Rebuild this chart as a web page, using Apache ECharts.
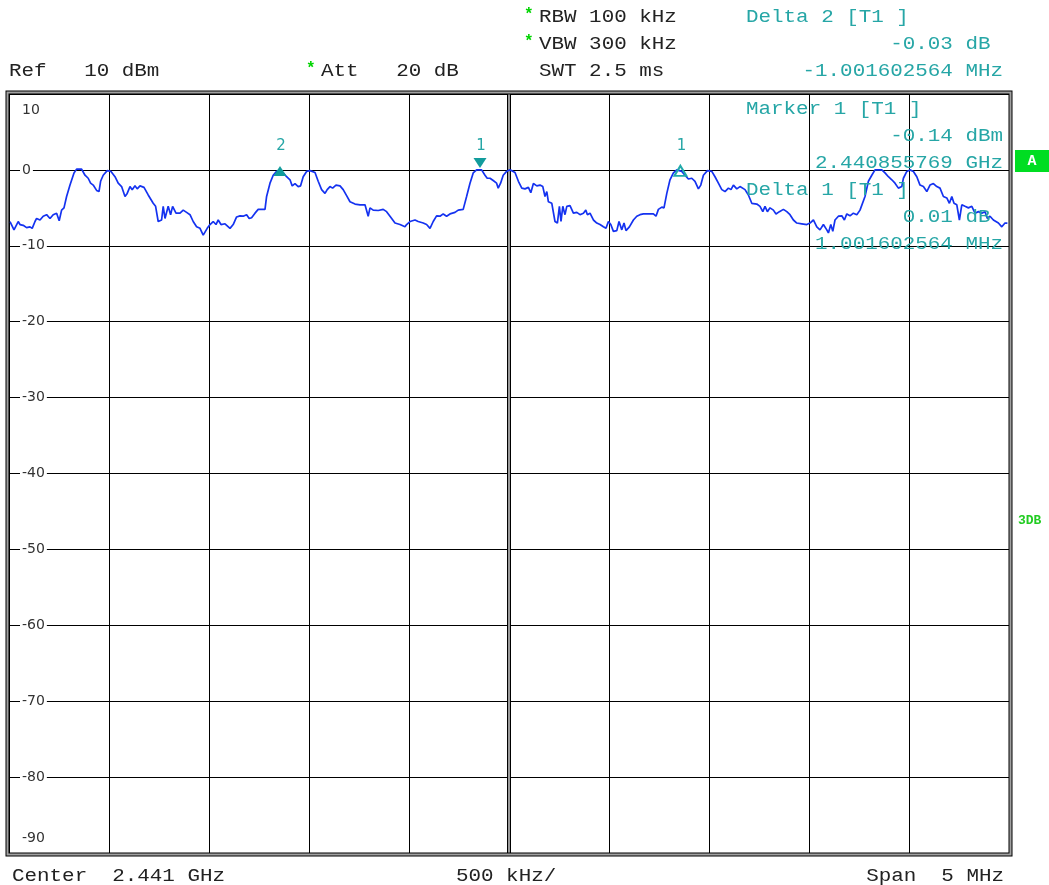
<!DOCTYPE html>
<html>
<head>
<meta charset="utf-8">
<script src="https://cdn.jsdelivr.net/npm/echarts@6/dist/echarts.min.js"></script>
<style>html,body{margin:0;padding:0;background:#fff;}#c{width:1049px;height:885px;}</style>
</head>
<body>
<div id="c"></div>
<script>
// Frequency offset from center 2.441 GHz, in kHz
const freqKHz = [-2495,-2487,-2475,-2465,-2454,-2445,-2429,-2412,-2395,-2384,-2370,-2362,-2345,-2329,-2312,-2295,-2279,-2262,-2249,-2237,-2225,-2212,-2195,-2175,-2162,-2137,-2120,-2104,-2092,-2079,-2062,-2050,-2042,-2029,-2009,-1990,-1970,-1954,-1937,-1920,-1909,-1895,-1884,-1870,-1859,-1845,-1825,-1804,-1779,-1767,-1754,-1737,-1729,-1720,-1704,-1692,-1682,-1665,-1645,-1629,-1612,-1595,-1579,-1562,-1545,-1529,-1520,-1509,-1495,-1479,-1465,-1454,-1440,-1420,-1395,-1379,-1362,-1345,-1329,-1312,-1299,-1287,-1270,-1254,-1220,-1212,-1195,-1179,-1162,-1145,-1129,-1112,-1095,-1084,-1070,-1054,-1042,-1029,-1012,-995,-970,-954,-937,-920,-909,-895,-882,-865,-845,-829,-812,-795,-770,-745,-720,-704,-695,-679,-654,-629,-612,-595,-570,-545,-537,-520,-512,-495,-470,-454,-429,-412,-395,-379,-362,-345,-329,-312,-295,-270,-254,-229,-212,-195,-179,-162,-137,-120,-109,-95,-79,-62,-54,-42,-29,-12,2,14,30,47,64,80,97,109,122,139,155,169,180,189,197,214,230,242,252,260,269,280,289,305,322,339,355,372,384,392,405,422,439,455,472,485,497,509,522,539,550,564,575,585,602,622,639,655,672,697,722,735,747,764,775,789,805,822,839,864,880,897,914,930,947,959,972,992,1014,1030,1047,1064,1080,1097,1110,1122,1139,1155,1180,1197,1214,1222,1239,1255,1269,1280,1292,1305,1322,1335,1352,1372,1389,1405,1422,1439,1464,1489,1505,1522,1539,1555,1572,1589,1597,1609,1619,1630,1647,1664,1677,1689,1705,1722,1739,1755,1780,1797,1814,1830,1864,1880,1897,1914,1930,1947,1964,1972,1989,2005,2022,2039,2055,2072,2089,2105,2122,2139,2155,2172,2189,2202,2214,2225,2239,2252,2264,2280,2297,2314,2330,2347,2364,2380,2392,2405,2422,2447,2464,2480,2492];
const levelDBm = [-6.8,-6.6,-7.9,-8.0,-6.8,-7.2,-7.3,-7.6,-7.5,-7.7,-6.8,-6.4,-6.6,-6.1,-5.9,-6.4,-5.9,-5.7,-6.7,-5.3,-5.0,-3.5,-2.0,-0.4,0.1,0.1,-0.7,-1.1,-1.75,-2.0,-2.7,-2.85,-1.5,-0.7,-0.1,-0.2,-0.9,-1.75,-2.2,-3.5,-3.1,-2.2,-2.6,-2.1,-2.5,-2.1,-2.3,-3.3,-4.4,-4.8,-6.8,-6.6,-4.8,-6.4,-4.8,-5.9,-4.8,-5.7,-5.7,-5.3,-5.6,-5.9,-6.8,-7.5,-7.7,-8.6,-8.7,-7.7,-7.2,-6.8,-7.2,-6.6,-7.2,-7.1,-7.7,-7.2,-6.2,-6.05,-6.1,-5.9,-6.4,-6.3,-5.7,-5.2,-5.2,-3.5,-1.75,-0.7,-0.2,-0.1,-0.4,-0.9,-1.3,-2.1,-1.8,-2.2,-2.1,-0.9,-0.2,-0.1,-0.35,-1.5,-2.6,-3.1,-2.6,-2.2,-2.4,-2.0,-2.1,-2.6,-3.4,-4.2,-4.5,-4.6,-4.6,-6.1,-5.0,-5.3,-5.35,-5.2,-5.5,-6.1,-7.0,-7.2,-7.0,-7.5,-7.2,-6.8,-6.6,-6.8,-7.0,-7.2,-7.7,-6.8,-6.05,-6.1,-5.8,-6.1,-5.8,-5.6,-5.3,-5.2,-3.5,-1.75,-0.4,0,0,-0.7,-1.1,-1.1,-1.4,-1.75,-2.4,-1.75,-0.7,-0.2,0,-0.1,-0.35,-1.5,-2.4,-2.5,-2.3,-3.0,-1.8,-2.1,-2.0,-2.2,-3.5,-2.85,-4.2,-4.4,-6.8,-7.0,-4.8,-6.8,-4.8,-5.9,-4.8,-4.7,-5.7,-5.6,-5.9,-5.7,-5.3,-5.9,-5.7,-6.6,-7.0,-7.2,-7.5,-7.7,-6.8,-7.2,-8.1,-8.0,-6.8,-7.9,-7.0,-8.0,-7.5,-6.6,-6.1,-5.9,-5.8,-5.8,-5.8,-6.1,-5.2,-4.9,-5.0,-3.1,-1.3,-0.4,0,-0.2,-0.7,-1.2,-1.1,-1.5,-2.5,-2.0,-0.7,-0.1,-0.2,-0.9,-1.75,-2.6,-2.85,-2.4,-2.6,-2.0,-2.5,-2.2,-2.6,-3.3,-4.4,-4.2,-4.5,-4.8,-5.5,-4.8,-5.5,-5.0,-5.3,-5.8,-5.5,-5.2,-5.5,-5.9,-6.6,-7.0,-7.1,-7.2,-7.0,-6.6,-7.5,-7.9,-7.2,-7.9,-8.3,-7.2,-8.1,-6.6,-6.1,-6.05,-6.6,-5.8,-6.05,-5.7,-5.9,-5.3,-3.5,-1.5,-0.7,0,0,-0.4,-0.9,-1.3,-1.75,-2.4,-2.2,-1.1,-0.2,0,-0.2,-0.9,-2.0,-2.2,-2.85,-2.0,-1.8,-2.2,-2.4,-3.5,-3.7,-4.4,-3.5,-4.4,-4.6,-6.6,-4.6,-4.8,-5.0,-4.8,-5.7,-5.5,-5.7,-5.5,-6.4,-6.1,-6.6,-7.0,-7.5,-7.0,-7.0];
const yTicks = [10, 0, -10, -20, -30, -40, -50, -60, -70, -80, -90];
// markers: [freq kHz, level, label, kind]
const markerPos = [[-1145, -0.14, '2', 'up'], [-145, -0.14, '1', 'down'], [857, -0.13, '1', 'hollow']];

const traceData = freqKHz.map((f, i) => [f, levelDBm[i]]);

const MONO = '"Liberation Mono", "DejaVu Sans Mono", monospace';
const TEAL = '#26a6a6';
const BLK = '#222222';
const GREEN = '#00d400';
const FS = 18;
const SX = 1.16;

function txt(x, y, s, color, align) {
  return {
    type: 'text', x: x, y: y, z: 100, scaleX: SX, silent: true,
    style: { text: s, fill: color, font: FS + 'px ' + MONO, textAlign: align || 'left', textVerticalAlign: 'middle' }
  };
}
function star(x, y) {
  return { type: 'text', x: x, y: y, z: 100, silent: true,
    style: { text: '*', fill: GREEN, font: 'bold 16px ' + MONO, textAlign: 'left', textVerticalAlign: 'middle' } };
}

const markPts = [];
markerPos.forEach(m => {
  const [f, v, lab, kind] = m;
  if (kind === 'up') {
    markPts.push({ coord: [f, v], symbol: 'triangle', symbolSize: [13, 10], symbolOffset: [0, 0], itemStyle: { color: '#129c9c' }, label: { show: false } });
  } else if (kind === 'down') {
    markPts.push({ coord: [f, v], symbol: 'triangle', symbolRotate: 180, symbolSize: [13, 10], symbolOffset: [0, -8], itemStyle: { color: '#129c9c' }, label: { show: false } });
  } else {
    markPts.push({ coord: [f, v], symbol: 'triangle', symbolSize: [12, 10], symbolOffset: [0, 0], itemStyle: { color: 'rgba(0,0,0,0)', borderColor: '#22aaaa', borderWidth: 2 }, label: { show: false } });
  }
  markPts.push({ coord: [f, v], symbol: 'circle', symbolSize: 1, itemStyle: { color: 'rgba(0,0,0,0)' },
    label: { show: true, position: 'inside', offset: [1, -25], formatter: lab, color: TEAL, fontFamily: '"DejaVu Sans", sans-serif', fontSize: 15 } });
});

const chart = echarts.init(document.getElementById('c'), null, { renderer: 'canvas' });
chart.setOption({
  animation: false,
  backgroundColor: '#fff',
  grid: { left: 9, top: 94, right: 40, bottom: 32, show: false },
  xAxis: {
    type: 'value', min: -2500, max: 2500, interval: 500,
    axisLine: { show: false }, axisTick: { show: false }, axisLabel: { show: false },
    splitLine: { show: true, lineStyle: { color: '#000', width: 1 } }
  },
  yAxis: {
    type: 'value', min: -90, max: 10, interval: 10,
    axisLine: { show: false }, axisTick: { show: false },
    splitLine: { show: true, lineStyle: { color: '#000', width: 1 } },
    axisLabel: {
      inside: true, margin: 11, showMinLabel: true, showMaxLabel: true,
      color: '#333', fontFamily: '"DejaVu Sans", sans-serif', fontSize: 14,
      formatter: function (v) {
        if (v === 10) return '{t|' + v + '}';
        if (v === -90) return '{b|' + v + '}';
        return '{m|' + v + '}';
      },
      rich: {
        t: { padding: [32, 0, 0, 2], color: '#333', fontSize: 14, fontFamily: '"DejaVu Sans", sans-serif' },
        b: { padding: [0, 0, 30, 2], color: '#333', fontSize: 14, fontFamily: '"DejaVu Sans", sans-serif' },
        m: { backgroundColor: '#fff', padding: [1, 2, 1, 2], color: '#333', fontSize: 14, fontFamily: '"DejaVu Sans", sans-serif' }
      }
    }
  },
  series: [{
    type: 'line', data: traceData, showSymbol: false, silent: true,
    lineStyle: { color: '#1432f0', width: 1.7 },
    z: 5,
    markLine: {
      silent: true, symbol: 'none', label: { show: false },
      data: [
        { xAxis: 0, lineStyle: { color: '#000', width: 4, type: 'solid' } },
        { xAxis: 0, lineStyle: { color: '#9a9a9a', width: 2, type: 'solid' } }
      ],
      z: 1
    },
    markPoint: { silent: true, data: markPts, z: 10 }
  }],
  graphic: [
    { type: 'rect', shape: { x: 7.5, y: 92.5, width: 1003, height: 762 }, style: { fill: 'none', stroke: '#000', lineWidth: 4 }, z: 50, silent: true },
    { type: 'rect', shape: { x: 7.5, y: 92.5, width: 1003, height: 762 }, style: { fill: 'none', stroke: '#a0a0a0', lineWidth: 2 }, z: 51, silent: true },
    // header
    txt(9, 71, 'Ref   10 dBm', BLK),
    star(306, 69),
    txt(321, 71, 'Att   20 dB', BLK),
    star(524, 15),
    txt(539, 17, 'RBW 100 kHz', BLK),
    star(524, 42),
    txt(539, 44, 'VBW 300 kHz', BLK),
    txt(539, 71, 'SWT 2.5 ms', BLK),
    txt(746, 17, 'Delta 2 [T1 ]', TEAL),
    txt(1003, 44, '-0.03 dB ', TEAL, 'right'),
    txt(1003, 71, '-1.001602564 MHz', TEAL, 'right'),
    // marker info inside plot
    txt(746, 109, 'Marker 1 [T1 ]', TEAL),
    txt(1003, 136, '-0.14 dBm', TEAL, 'right'),
    txt(1003, 163, '2.440855769 GHz', TEAL, 'right'),
    txt(746, 190, 'Delta 1 [T1 ]', TEAL),
    txt(1003, 217, '0.01 dB ', TEAL, 'right'),
    txt(1003, 244, '1.001602564 MHz', TEAL, 'right'),
    // footer
    txt(12, 876, 'Center  2.441 GHz', BLK),
    txt(456, 876, '500 kHz/', BLK),
    txt(1004, 876, 'Span  5 MHz', BLK, 'right'),
    // right side annotations
    { type: 'rect', shape: { x: 1015, y: 150, width: 34, height: 22 }, style: { fill: '#00dd22' }, z: 60, silent: true },
    { type: 'text', x: 1032, y: 161, z: 61, silent: true, style: { text: 'A', fill: '#fff', font: 'bold 15px ' + MONO, textAlign: 'center', textVerticalAlign: 'middle' } },
    { type: 'text', x: 1018, y: 521, z: 61, silent: true, style: { text: '3DB', fill: '#22cc22', font: 'bold 13px ' + MONO, textAlign: 'left', textVerticalAlign: 'middle' } }
  ]
});
</script>
</body>
</html>
